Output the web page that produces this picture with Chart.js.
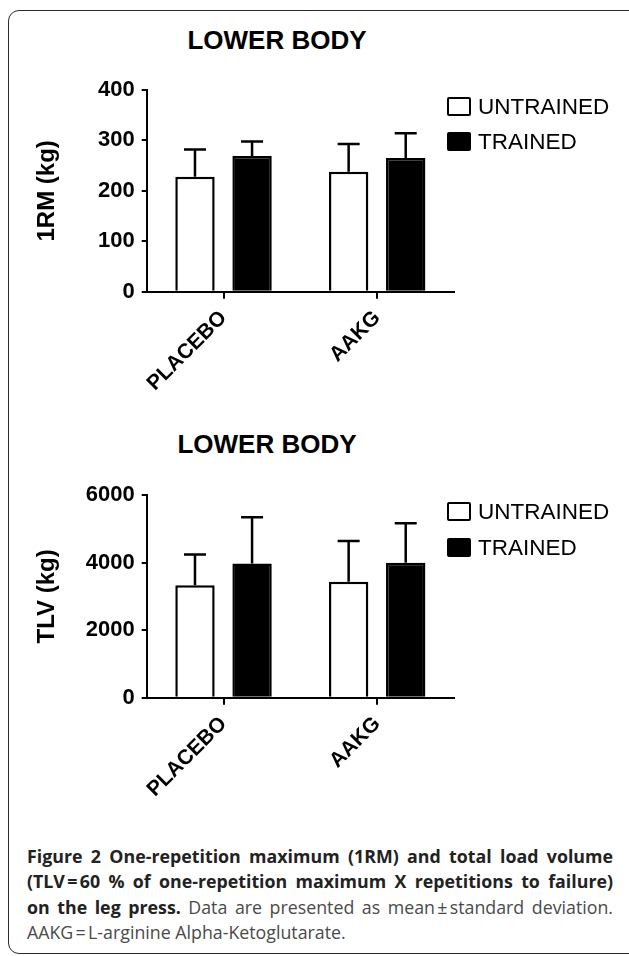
<!DOCTYPE html>
<html>
<head>
<meta charset="utf-8">
<script src="https://cdn.jsdelivr.net/npm/chart.js@4.4.0/dist/chart.umd.min.js"></script>
<style>
    html, body { margin: 0; padding: 0; background: #fff; }
    body { width: 629px; height: 956px; position: relative; overflow: hidden; font-family: "Liberation Sans", Arial, sans-serif; }
    .frame { position: absolute; left: 8px; top: 10px; width: 660px; height: 942px; border: 1.5px solid #2b2b2b; border-radius: 11px; }
    .title { position: absolute; width: 240px; text-align: center; font-weight: bold; font-size: 26px; line-height: 26px; color: #000; }
    .chart-box { position: absolute; left: 0; width: 629px; height: 340px; }
    .legend-row { position: absolute; left: 447px; height: 19px; display: flex; align-items: center; }
    .legend-swatch { width: 24px; height: 19px; box-sizing: border-box; border: 2.5px solid #000; border-radius: 2px; }
    .legend-text { margin-left: 7px; font-size: 22.5px; line-height: 19px; color: #000; }
    .caption { position: absolute; left: 27px; top: 844px; width: 586px; font-family: "Open Sans", "Noto Sans", sans-serif; font-size: 17.8px; line-height: 25.3px; color: #4a4a4a; }
    .caption .line { display: block; text-align: justify; text-align-last: justify; white-space: nowrap; }
    .caption .last { text-align: left; text-align-last: left; }
    .caption b { color: #222; font-weight: bold; }
</style>
</head>
<body>
<div class="frame"></div>

<div class="title" style="left: 157px; top: 27px;">LOWER BODY</div>
<div class="chart-box" style="top: 60px;"><canvas id="chart1RM"></canvas></div>
<div id="legend1RM"></div>

<div class="title" style="left: 147px; top: 431px;">LOWER BODY</div>
<div class="chart-box" style="top: 460px;"><canvas id="chartTLV"></canvas></div>
<div id="legendTLV"></div>

<div class="caption">
    <span class="line"><b>Figure 2 One-repetition maximum (1RM) and total load volume</b></span>
    <span class="line"><b>(TLV&#8239;=&#8239;60 % of one-repetition maximum X repetitions to failure)</b></span>
    <span class="line"><b>on the leg press.</b> Data are presented as mean&#8239;±&#8239;standard deviation.</span>
    <span class="line last">AAKG&#8239;=&#8239;L-arginine Alpha-Ketoglutarate.</span>
</div>

<script>
// Data
const groups = ['PLACEBO', 'AAKG'];
const seriesLabels = ['UNTRAINED', 'TRAINED'];

const rmUntrained = [228, 238];
const rmUntrainedSd = [54, 55];
const rmTrained = [269, 265];
const rmTrainedSd = [29, 49];
const rmTicks = { max: 400, step: 100 };

const tlvUntrained = [3330, 3432];
const tlvUntrainedSd = [910, 1210];
const tlvTrained = [3970, 3994];
const tlvTrainedSd = [1370, 1170];
const tlvTicks = { max: 6000, step: 2000 };

// draws mean + SD whiskers on top of each bar
const errorBars = {
    id: 'errorBars',
    afterDatasetsDraw(chart, args, opts) {
        const ctx = chart.ctx;
        const yScale = chart.scales.y;
        chart.data.datasets.forEach((ds, i) => {
            const meta = chart.getDatasetMeta(i);
            meta.data.forEach((bar, j) => {
                const top = yScale.getPixelForValue(ds.data[j] + opts.sd[i][j]);
                ctx.save();
                ctx.strokeStyle = '#000';
                ctx.lineWidth = 2.5;
                ctx.beginPath();
                ctx.moveTo(bar.x, bar.y);
                ctx.lineTo(bar.x, top);
                ctx.moveTo(bar.x - 11, top);
                ctx.lineTo(bar.x + 11, top);
                ctx.stroke();
                ctx.restore();
            });
        });
    }
};

function buildLegend(id, tops) {
    const el = document.getElementById(id);
    const fills = ['#fff', '#000'];
    el.innerHTML = seriesLabels.map((label, i) => `
        <div class="legend-row" style="top: ${tops[i]}px;">
            <div class="legend-swatch" style="background: ${fills[i]};"></div>
            <span class="legend-text">${label}</span>
        </div>
    `).join('');
}

function makeChart(canvasId, untrained, untrainedSd, trained, trainedSd, ticks, yTitle, topPad, xHeight) {
    const tickFont = { family: 'Liberation Sans', size: 22, weight: 'bold' };
    return new Chart(document.getElementById(canvasId), {
        type: 'bar',
        data: {
            labels: groups,
            datasets: [{
                label: seriesLabels[0],
                data: untrained,
                backgroundColor: '#fff',
                borderColor: '#000',
                borderWidth: 2.5
            }, {
                label: seriesLabels[1],
                data: trained,
                backgroundColor: '#000',
                borderColor: '#000',
                borderWidth: 2.5
            }]
        },
        options: {
            responsive: true,
            maintainAspectRatio: false,
            animation: false,
            categoryPercentage: 0.743,
            barPercentage: 0.69,
            layout: { padding: { top: topPad, right: 175, left: 0, bottom: 0 } },
            plugins: {
                legend: { display: false },
                tooltip: { enabled: false },
                errorBars: { sd: [untrainedSd, trainedSd] }
            },
            scales: {
                x: {
                    afterFit: (scale) => { scale.height = xHeight; },
                    grid: { display: true, drawOnChartArea: false, offset: false, tickLength: 7, color: '#000', lineWidth: 2 },
                    border: { display: true, color: '#000', width: 2 },
                    ticks: {
                        color: '#000',
                        font: { family: 'Liberation Sans', size: 21, weight: 'bold' },
                        minRotation: 45,
                        maxRotation: 45,
                        padding: 7
                    }
                },
                y: {
                    min: 0,
                    max: ticks.max,
                    afterFit: (scale) => { scale.width = 146.7; },
                    grid: { display: true, drawOnChartArea: false, tickLength: 5, color: '#000', lineWidth: 2 },
                    border: { display: true, color: '#000', width: 2 },
                    ticks: {
                        color: '#000',
                        font: tickFont,
                        stepSize: ticks.step,
                        padding: 7,
                        callback: (value) => String(value)
                    },
                    title: {
                        display: true,
                        text: yTitle,
                        color: '#000',
                        font: { family: 'Liberation Sans', size: 24, weight: 'bold' },
                        padding: { top: 33, bottom: 0 }
                    }
                }
            }
        },
        plugins: [errorBars]
    });
}

document.addEventListener('DOMContentLoaded', () => {
    makeChart('chart1RM', rmUntrained, rmUntrainedSd, rmTrained, rmTrainedSd, rmTicks, '1RM (kg)', 30, 108.3);
    makeChart('chartTLV', tlvUntrained, tlvUntrainedSd, tlvTrained, tlvTrainedSd, tlvTicks, 'TLV (kg)', 35, 102.3);
    buildLegend('legend1RM', [96.7, 132]);
    buildLegend('legendTLV', [502, 537.7]);
});
</script>
</body>
</html>
